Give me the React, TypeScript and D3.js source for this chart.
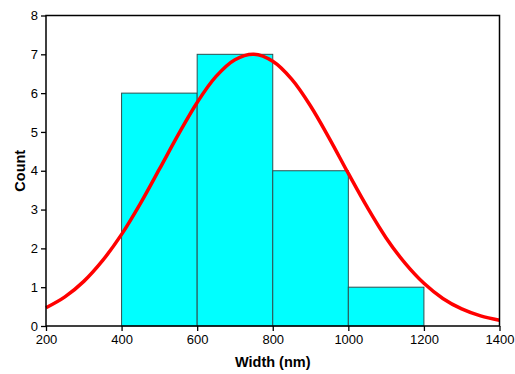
import { useEffect, useRef } from 'react';
import * as d3 from 'd3';

const BIN_STARTS = [400, 600, 800, 1000];
const BIN_ENDS = [600, 800, 1000, 1200];
const COUNTS = [6, 7, 4, 1];

// fitted curve, every 50 nm
const FIT_X = [200, 250, 300, 350, 400, 450, 500, 550, 600, 650, 700, 750, 800, 850, 900, 950, 1000, 1050, 1100, 1150, 1200, 1250, 1300, 1350, 1400];
const FIT_Y = [0.47, 0.75, 1.15, 1.69, 2.36, 3.16, 4.04, 4.93, 5.76, 6.43, 6.86, 7.0, 6.82, 6.36, 5.67, 4.83, 3.93, 3.06, 2.27, 1.62, 1.1, 0.71, 0.44, 0.26, 0.15];

const X_TICKS = [200, 400, 600, 800, 1000, 1200, 1400];
const Y_TICKS = [0, 1, 2, 3, 4, 5, 6, 7, 8];

const WIDTH = 515;
const HEIGHT = 374;
const FONT = 'Arial, "Liberation Sans", sans-serif';

export default function App() {
  const svgRef = useRef<SVGSVGElement>(null);

  useEffect(() => {
    if (!svgRef.current) return;
    const svg = d3.select(svgRef.current);
    svg.selectAll('*').remove();

    const left = 46, right = 499.5, top = 15.5, bottom = 326;

    const x = d3.scaleLinear().domain([200, 1400]).range([left, right]);
    const y = d3.scaleLinear().domain([0, 8]).range([bottom, top]);

    // bars
    svg.append('g')
      .selectAll('rect')
      .data(COUNTS)
      .enter()
      .append('rect')
      .attr('x', (_d, i) => x(BIN_STARTS[i]))
      .attr('y', d => y(d))
      .attr('width', (_d, i) => x(BIN_ENDS[i]) - x(BIN_STARTS[i]))
      .attr('height', d => y(0) - y(d))
      .attr('fill', '#00ffff')
      .attr('stroke', '#2f4f4f')
      .attr('stroke-width', 1);

    // fit curve
    const line = d3.line<number>()
      .x((_d, i) => x(FIT_X[i]))
      .y(d => y(d))
      .curve(d3.curveCatmullRom);

    svg.append('path')
      .datum(FIT_Y)
      .attr('d', line)
      .attr('fill', 'none')
      .attr('stroke', '#ff0000')
      .attr('stroke-width', 3.5);

    // frame
    svg.append('rect')
      .attr('x', left)
      .attr('y', top)
      .attr('width', right - left)
      .attr('height', bottom - top)
      .attr('fill', 'none')
      .attr('stroke', '#000')
      .attr('stroke-width', 1.5);

    // x axis
    const xAxis = svg.append('g').attr('transform', `translate(0,${bottom})`);
    xAxis.call(
      d3.axisBottom(x).tickValues(d3.range(300, 1400, 200)).tickSize(3).tickFormat(() => '')
    );
    xAxis.call(
      d3.axisBottom(x).tickValues(X_TICKS).tickSize(5).tickPadding(4).tickFormat(d3.format('d'))
    );

    // y axis
    const yAxis = svg.append('g').attr('transform', `translate(${left},0)`);
    yAxis.call(
      d3.axisLeft(y).tickValues(d3.range(0.5, 8, 1)).tickSize(3).tickFormat(() => '')
    );
    yAxis.call(
      d3.axisLeft(y).tickValues(Y_TICKS).tickSize(5).tickPadding(3).tickFormat(d3.format('d'))
    );

    svg.selectAll('.domain').remove();
    svg.selectAll('.tick line').attr('stroke', '#000').attr('stroke-width', 1.3);
    svg.selectAll('.tick text')
      .attr('fill', '#000')
      .style('font-family', FONT)
      .style('font-size', '13px');

    // titles
    svg.append('text')
      .attr('x', (left + right) / 2)
      .attr('y', 367)
      .attr('text-anchor', 'middle')
      .style('font-family', FONT)
      .style('font-size', '14.5px')
      .style('font-weight', 'bold')
      .text('Width (nm)');

    svg.append('text')
      .attr('transform', `translate(25,${(top + bottom) / 2}) rotate(-90)`)
      .attr('text-anchor', 'middle')
      .style('font-family', FONT)
      .style('font-size', '14.5px')
      .style('font-weight', 'bold')
      .text('Count');
  }, []);

  return (
    <svg
      ref={svgRef}
      width={WIDTH}
      height={HEIGHT}
      style={{ position: 'absolute', left: 0, top: 0, background: '#fff' }}
    ></svg>
  );
}
